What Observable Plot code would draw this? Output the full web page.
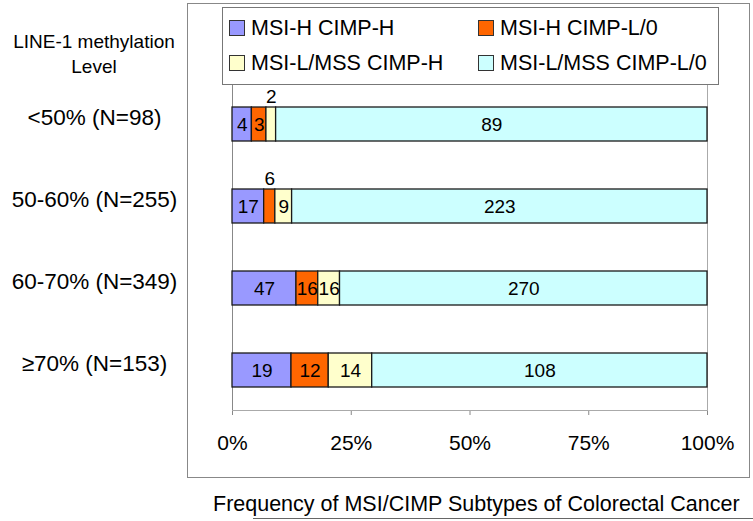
<!DOCTYPE html>
<html><head><meta charset="utf-8">
<script src="https://cdn.jsdelivr.net/npm/d3@7"></script>
<script src="https://cdn.jsdelivr.net/npm/@observablehq/plot@0.6"></script>
<style>
body{margin:0;background:#fff;font-family:"Liberation Sans",Arial,sans-serif;color:#000;}
#wrap{position:relative;width:753px;height:521px;overflow:hidden;}
.abs{position:absolute;}
#wrap svg [aria-label="x-axis tick"]{stroke:#888;}
</style></head><body><div id="wrap"></div>
<script>
const levels = ["<50% (N=98)", "50-60% (N=255)", "60-70% (N=349)", "≥70% (N=153)"];
const subtypes = ["MSI-H CIMP-H", "MSI-H CIMP-L/0", "MSI-L/MSS CIMP-H", "MSI-L/MSS CIMP-L/0"];
const colors = ["#9999FF", "#FF6600", "#FFFFCC", "#CCFFFF"];
const msiHCimpH = [4, 17, 47, 19];
const msiHCimpL0 = [3, 6, 16, 12];
const mssCimpH = [2, 9, 16, 14];
const mssCimpL0 = [89, 223, 270, 108];
const labelAbove = [["<50% (N=98)", "MSI-L/MSS CIMP-H"], ["50-60% (N=255)", "MSI-H CIMP-L/0"]];
const tickValues = [0, 0.25, 0.5, 0.75, 1];
const tickLabels = ["0%", "25%", "50%", "75%", "100%"];
const yTitle = ["LINE-1 methylation", "Level"];
const caption = "Frequency of MSI/CIMP Subtypes of Colorectal Cancer";

const series = [msiHCimpH, msiHCimpL0, mssCimpH, mssCimpL0];
const rows = levels.flatMap((lv, i) => subtypes.map((s, j) => ({
  level: lv, subtype: s, n: series[j][i],
  above: labelAbove.some(([a, b]) => a === lv && b === s)
})));

const wrap = document.getElementById("wrap");
const FONT = '"Liberation Sans", Arial, sans-serif';

// outer box
const outer = document.createElement("div");
outer.className = "abs";
Object.assign(outer.style, {left: "187px", top: "3px", width: "561px", height: "473px", border: "1px solid #888"});
wrap.appendChild(outer);

const chart = Plot.plot({
  width: 753, height: 477,
  marginLeft: 232, marginRight: 46, marginTop: 84, marginBottom: 67,
  style: {background: "transparent", fontFamily: FONT, fontSize: "21px", color: "#000", overflow: "visible"},
  x: {domain: [0, 1], ticks: tickValues, tickFormat: d => tickLabels[tickValues.indexOf(d)], tickSize: 5, tickPadding: 20, label: null, line: true},
  y: {domain: levels, axis: null, paddingInner: 0.585, paddingOuter: 0.274},
  color: {domain: subtypes, range: colors},
  marks: [
    Plot.frame({stroke: "#aaa"}),
    Plot.ruleX([0], {stroke: "#888"}),
    Plot.barX(rows, Plot.stackX({x: "n", y: "level", fill: "subtype", order: subtypes, offset: "normalize", stroke: "#1a1a1a", strokeWidth: 1.3})),
    Plot.text(rows, Plot.stackX({x: "n", y: "level", z: "subtype", order: subtypes, offset: "normalize", text: d => d.above ? "" : String(d.n), fontSize: 19, fill: "#000"})),
    Plot.text(rows, Plot.stackX({x: "n", y: "level", z: "subtype", order: subtypes, offset: "normalize", text: d => d.above ? String(d.n) : "", fontSize: 19, fill: "#000", dy: -28})),
    Plot.text(levels, {y: d => d, text: d => d, frameAnchor: "left", dx: -138, dy: -7, textAnchor: "middle", fontSize: 22.5, fill: "#000"})
  ]
});
chart.classList.add("abs");
chart.style.left = "0px";
chart.style.top = "0px";
wrap.appendChild(chart);

// legend
const legend = document.createElement("div");
legend.className = "abs";
Object.assign(legend.style, {left: "222px", top: "7px", width: "495px", height: "76px", border: "1px solid #777", background: "#fff"});
wrap.appendChild(legend);
const legPos = [[6, 8], [255, 8], [6, 43], [255, 43]];
subtypes.forEach((s, i) => {
  const it = document.createElement("div");
  it.className = "abs";
  Object.assign(it.style, {left: legPos[i][0] + "px", top: legPos[i][1] + "px", height: "24px", lineHeight: "24px", fontSize: "21.5px", whiteSpace: "nowrap", display: "flex", alignItems: "center"});
  const sw = document.createElement("span");
  Object.assign(sw.style, {display: "inline-block", width: "14px", height: "14px", border: "1px solid #333", background: colors[i], marginRight: "6px"});
  it.appendChild(sw);
  it.appendChild(document.createTextNode(s));
  legend.appendChild(it);
});

// y title
const yt = document.createElement("div");
yt.className = "abs";
Object.assign(yt.style, {left: "0px", top: "29px", width: "188px", textAlign: "center", fontSize: "19px", lineHeight: "25px"});
yt.innerHTML = yTitle.join("<br>");
wrap.appendChild(yt);

// caption
const cap = document.createElement("div");
cap.className = "abs";
Object.assign(cap.style, {left: "213px", top: "492px", fontSize: "21.5px", lineHeight: "24px", whiteSpace: "nowrap"});
cap.textContent = caption;
wrap.appendChild(cap);
const ul = document.createElement("div");
ul.className = "abs";
Object.assign(ul.style, {left: "253px", top: "518px", width: "500px", height: "0", borderTop: "1px solid #666"});
wrap.appendChild(ul);
</script></body></html>
